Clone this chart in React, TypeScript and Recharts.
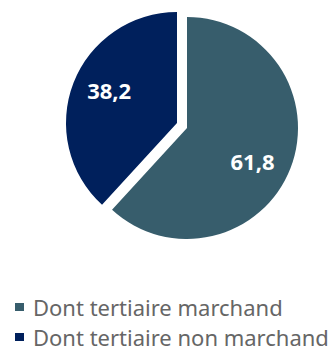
import React from "react";
import { PieChart, Pie, Cell } from "recharts";

const categories = ["Dont tertiaire marchand", "Dont tertiaire non marchand"];
const values = [61.8, 38.2];
const labels = ["61,8", "38,2"];
const colors = ["#375D6C", "#00205C"];

const data = categories.map((name, i) => ({ name, value: values[i], label: labels[i] }));

const RAD = Math.PI / 180;

const makeLabel = (visibleIndex: number, angleShift: number) => (props: any) => {
  const { cx, cy, midAngle, outerRadius, index, payload } = props;
  if (index !== visibleIndex) return null;
  const r = outerRadius * 0.67;
  const a = (midAngle + angleShift) * RAD;
  const x = cx + r * Math.cos(-a);
  const y = cy + r * Math.sin(-a);
  return (
    <text
      x={x}
      y={y - 2}
      fill="#ffffff"
      fontSize={22}
      fontWeight="bold"
      fontFamily="'Open Sans', sans-serif"
      textAnchor="middle"
      dominantBaseline="central"
    >
      {payload.label}
    </text>
  );
};

export default function App() {
  return (
    <div style={{ position: "absolute", left: 0, top: 0, width: 333, height: 347, background: "#fff", overflow: "hidden" }}>
      <PieChart width={333} height={347} margin={{ top: 0, right: 0, bottom: 0, left: 0 }}>
        <Pie
          data={data}
          dataKey="value"
          cx={187}
          cy={128}
          outerRadius={111}
          startAngle={90}
          endAngle={-270}
          stroke="none"
          isAnimationActive={false}
          labelLine={false}
          label={makeLabel(0, -7)}
        >
          {data.map((d, i) => (
            <Cell key={d.name} fill={i === 0 ? colors[0] : "transparent"} />
          ))}
        </Pie>
        <Pie
          data={data}
          dataKey="value"
          cx={177}
          cy={123}
          outerRadius={111}
          startAngle={90}
          endAngle={-270}
          stroke="none"
          isAnimationActive={false}
          labelLine={false}
          label={makeLabel(1, -3)}
        >
          {data.map((d, i) => (
            <Cell key={d.name} fill={i === 1 ? colors[1] : "transparent"} />
          ))}
        </Pie>
      </PieChart>
      <div
        style={{
          position: "absolute",
          left: 15,
          top: 298,
          fontFamily: "'Noto Sans', sans-serif",
          fontSize: 22,
          lineHeight: "18px",
          color: "#666666",
          whiteSpace: "nowrap",
        }}
      >
        {data.map((d, i) => (
          <div key={d.name} style={{ display: "flex", alignItems: "center", height: 18, marginBottom: 12 }}>
            <span
              style={{
                display: "inline-block",
                width: 9,
                height: 8,
                background: colors[i],
                marginRight: 9,
              }}
            />
            <span>{d.name}</span>
          </div>
        ))}
      </div>
    </div>
  );
}
